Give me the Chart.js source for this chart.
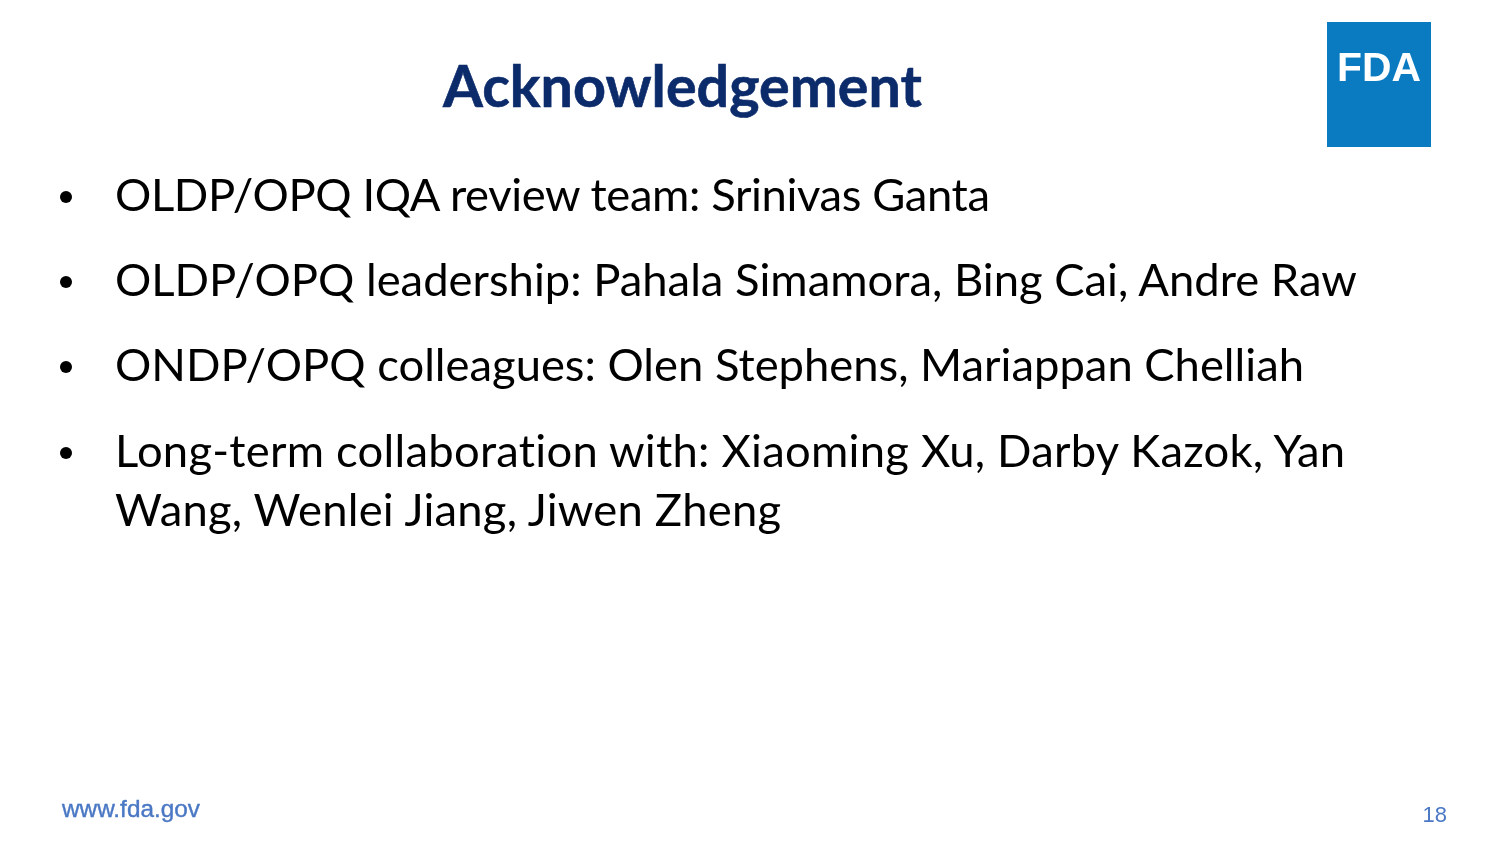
<!DOCTYPE html>
<html><head><meta charset="utf-8">
<script src="https://cdn.jsdelivr.net/npm/chart.js@4"></script>
<style>
html,body{margin:0;padding:0;background:#fff;overflow:hidden;width:1494px;height:848px}
#bg{position:absolute;left:0;top:0;width:1494px;height:848px}
#slide{position:absolute;left:0;top:0}
text{font-variant-ligatures:none;font-feature-settings:"liga" 0,"clig" 0}
</style></head><body>
<canvas id="bg" width="1494" height="848"></canvas>
<svg id="slide" width="1494" height="848" xmlns="http://www.w3.org/2000/svg"></svg>
<script>
const titleText = "Acknowledgement";
const bulletLines = [
  ["OLDP/OPQ IQA review team: Srinivas Ganta"],
  ["OLDP/OPQ leadership: Pahala Simamora, Bing Cai, Andre Raw"],
  ["ONDP/OPQ colleagues: Olen Stephens, Mariappan Chelliah"],
  ["Long-term collaboration with: Xiaoming Xu, Darby Kazok, Yan", "Wang, Wenlei Jiang, Jiwen Zheng"]
];
const lineWidths = [[875], [1242], [1189], [1230, 666]];
const logoText = "FDA";
const footerUrl = "www.fda.gov";
const pageNumber = "18";

// blank Chart.js background layer (the slide has no data marks)
new Chart(document.getElementById('bg'), {
  type: 'scatter',
  data: { datasets: [] },
  options: { responsive: false, animation: false, events: [],
    plugins: { legend: { display: false }, tooltip: { enabled: false } },
    scales: { x: { display: false }, y: { display: false } } }
});

const NS = "http://www.w3.org/2000/svg";
const svg = document.getElementById('slide');
function el(tag, attrs, text) {
  const e = document.createElementNS(NS, tag);
  for (const k in attrs) e.setAttribute(k, attrs[k]);
  if (text !== undefined) e.textContent = text;
  svg.appendChild(e);
  return e;
}
function fitSize(text, family, weight, target) {
  const t = el('text', { x: 0, y: -100, 'font-family': family, 'font-weight': weight, 'font-size': 40 }, text);
  const w = t.getComputedTextLength();
  svg.removeChild(t);
  return 40 * target / w;
}

const bodyFont = "Lato, 'Open Sans', sans-serif";
const footFont = "'Liberation Sans', Arial, sans-serif";

// Title
const tSize = fitSize(titleText, bodyFont, 700, 479);
el('text', { x: 443, y: 107, 'font-family': bodyFont, 'font-weight': 700, 'font-size': tSize, fill: '#0c2b6b', stroke: '#0c2b6b', 'stroke-width': 0.6 }, titleText);

// Logo
el('rect', { x: 1327, y: 22, width: 104, height: 125, fill: '#0a7bc1' });
const lSize = fitSize(logoText, footFont, 700, 84);
el('text', { x: 1337, y: 81, 'font-family': footFont, 'font-weight': 700, 'font-size': lSize, fill: '#ffffff' }, logoText);

// Bullets
const bSize = fitSize(bulletLines[1][0], bodyFont, 400, 1242);
const baselines = [211, 296, 381, 467];
bulletLines.forEach((lines, i) => {
  const b = baselines[i];
  el('circle', { cx: 66, cy: b - 14, r: 6, fill: '#000' });
  lines.forEach((ln, j) => {
    el('text', { x: 115, y: b + j * 59, 'font-family': bodyFont, 'font-weight': 400, 'font-size': bSize, fill: '#000',
      textLength: lineWidths[i][j], lengthAdjust: 'spacing' }, ln);
  });
});

// Footer
const fSize = fitSize(footerUrl, footFont, 400, 138);
el('text', { x: 62, y: 817, 'font-family': footFont, 'font-weight': 400, 'font-size': fSize, fill: '#4a78c4', stroke: '#4a78c4', 'stroke-width': 0.4 }, footerUrl);
el('text', { x: 1447, y: 822, 'text-anchor': 'end', 'font-family': footFont, 'font-weight': 400, 'font-size': 22, fill: '#4a78c4' }, pageNumber);
</script>
</body></html>
